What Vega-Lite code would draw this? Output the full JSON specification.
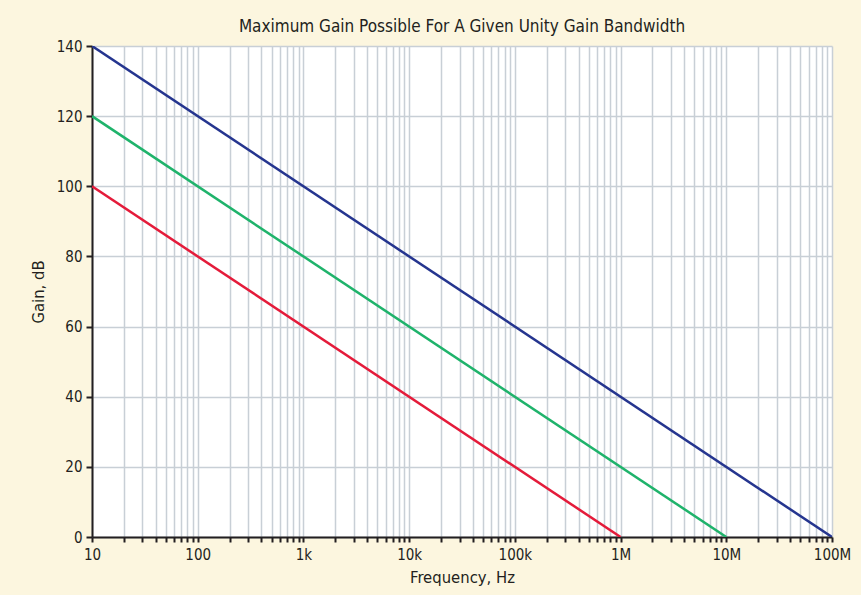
{
  "$schema": "https://vega.github.io/schema/vega-lite/v6.json",
  "autosize": {"type": "none"},
  "width": 740,
  "height": 491,
  "padding": {"left": 92, "top": 46, "right": 29, "bottom": 58},
  "background": "#fcf6df",
  "config": {
    "font": "'DejaVu Sans Condensed', Roboto, sans-serif",
    "view": {"fill": "#ffffff", "stroke": null},
    "axis": {
      "labelFont": "'DejaVu Sans Condensed', Roboto, sans-serif",
      "titleFont": "'DejaVu Sans Condensed', Roboto, sans-serif",
      "labelFontSize": 15,
      "titleFontSize": 16.5,
      "labelColor": "#231f20",
      "titleColor": "#231f20",
      "titleFontWeight": "normal",
      "domainColor": "#231f20",
      "domainWidth": 2,
      "tickColor": "#231f20",
      "tickWidth": 2,
      "gridColor": "#c8cfd6",
      "gridWidth": 1.5,
      "gridOpacity": 1
    }
  },
  "title": {
    "text": "Maximum Gain Possible For A Given Unity Gain Bandwidth",
    "font": "'DejaVu Sans Condensed', Roboto, sans-serif",
    "fontSize": 17,
    "fontWeight": "normal",
    "color": "#231f20",
    "offset": 3,
    "anchor": "middle"
  },
  "data": {
    "values": [
      {"f": 10, "gain": 140, "gbw": "100M"},
      {"f": 100000000, "gain": 0, "gbw": "100M"},
      {"f": 10, "gain": 120, "gbw": "10M"},
      {"f": 10000000, "gain": 0, "gbw": "10M"},
      {"f": 10, "gain": 100, "gbw": "1M"},
      {"f": 1000000, "gain": 0, "gbw": "1M"}
    ]
  },
  "mark": {"type": "line", "strokeWidth": 2.5, "clip": true},
  "encoding": {
    "x": {
      "field": "f",
      "type": "quantitative",
      "scale": {"type": "log", "domain": [10, 100000000], "nice": false},
      "axis": {
        "title": "Frequency, Hz",
        "titlePadding": 7,
        "tickSize": 5,
        "labelPadding": 5,
        "labelFlush": false,
        "labelOverlap": false,
        "values": [10,20,30,40,50,60,70,80,90,100,200,300,400,500,600,700,800,900,1000,2000,3000,4000,5000,6000,7000,8000,9000,10000,20000,30000,40000,50000,60000,70000,80000,90000,100000,200000,300000,400000,500000,600000,700000,800000,900000,1000000,2000000,3000000,4000000,5000000,6000000,7000000,8000000,9000000,10000000,20000000,30000000,40000000,50000000,60000000,70000000,80000000,90000000,100000000],
        "labelExpr": "indexof([10,100,1000,10000,100000,1000000,10000000,100000000], datum.value) < 0 ? '' : (datum.value >= 1000000 ? (datum.value/1000000) + 'M' : (datum.value >= 1000 ? (datum.value/1000) + 'k' : datum.value + ''))"
      }
    },
    "y": {
      "field": "gain",
      "type": "quantitative",
      "scale": {"domain": [0, 140], "nice": false},
      "axis": {
        "title": "Gain, dB",
        "titlePadding": 10,
        "tickSize": 6,
        "labelPadding": 4,
        "values": [0, 20, 40, 60, 80, 100, 120, 140]
      }
    },
    "color": {
      "field": "gbw",
      "type": "nominal",
      "scale": {"domain": ["100M", "10M", "1M"], "range": ["#25358f", "#1fb36b", "#e41b3a"]},
      "legend": null
    }
  }
}
